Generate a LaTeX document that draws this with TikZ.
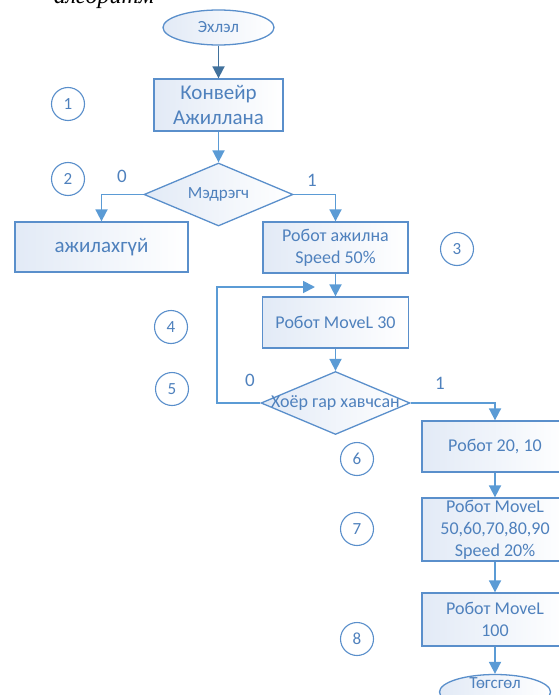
\documentclass[tikz,border=0pt]{standalone}
\usepackage{fontspec}
\setmainfont{Carlito}
\newfontfamily\titleserif{Liberation Serif}
\usetikzlibrary{shapes.geometric,arrows.meta}
\definecolor{flowline}{HTML}{5B9BD5}
\definecolor{flowedge}{HTML}{5A8FCB}
\definecolor{flowtext}{HTML}{4F81BD}
\definecolor{flowdark}{HTML}{41719C}
\definecolor{flowtint}{HTML}{E2EAF6}
\tikzset{
  base/.style={draw=flowedge,line width=1.3pt,text=flowtext,inner sep=0pt,align=center,
               left color=flowtint,right color=white},
  proc/.style={base,rectangle,minimum width=146pt,minimum height=51pt,
               font=\fontsize{18}{22}\selectfont},
  term/.style={base,ellipse,minimum width=111pt,minimum height=35pt,
               font=\fontsize{17}{20}\selectfont},
  dec/.style={base,diamond,minimum width=149pt,minimum height=63pt},
  dectext/.style={text=flowtext,inner sep=0pt,font=\fontsize{18}{22}\selectfont},
  num/.style={circle,draw=flowedge,line width=1.1pt,fill=white,minimum size=33pt,
              inner sep=0pt,text=flowtext,font=\fontsize{17}{20}\selectfont},
  flow/.style={draw=flowline,line width=1.8pt,-{Triangle[length=12pt,width=12pt]}},
  branch/.style={text=flowtext,inner sep=0pt,font=\fontsize{19}{22}\selectfont},
}
\begin{document}
\begin{tikzpicture}[x=1pt,y=-1pt]
\useasboundingbox (0,0) rectangle (558,695);

% heading line, mostly above the page
\node[anchor=base,inner sep=0pt,text=black,font=\titleserif\itshape\fontsize{24}{28}\selectfont]
  (title) at (104,4) {алгоритм};

% main flow
\node[term] (start) at (218.5,27.5) {Эхлэл};
\node[proc,minimum width=129pt,minimum height=52pt,font=\fontsize{21}{25}\selectfont]
  (conv) at (218.5,105) {Конвейр\\Ажиллана};
\node[dec] (sens) at (218.5,194.5) {};
\node[dectext,font=\fontsize{17}{20}\selectfont] (senst) at (sens) {Мэдрэгч};
\node[proc,minimum width=173pt,minimum height=50pt,font=\fontsize{21}{25}\selectfont]
  (idle) at (101.5,247) {ажилахгүй};
\node[proc,minimum width=145pt] (run) at (335.5,247.5) {Робот ажилна\\Speed 50\%};
\node[proc] (mv30) at (335.5,322.5) {Робот MoveL 30};
\node[dec] (grip) at (335.5,403) {};
\node[dectext] (gript) at (grip) {Хоёр гар хавчсан};
\node[proc] (p2010) at (495,446.5) {Робот 20, 10};
\node[proc,minimum height=63pt] (mvseq) at (495,529.5) {Робот MoveL\\50,60,70,80,90\\Speed 20\%};
\node[proc,minimum height=53pt] (mv100) at (495,619.5) {Робот MoveL\\100};
\node[term] (stop) at (495,692) {};
\node[text=flowtext,inner sep=0pt,font=\fontsize{17}{20}\selectfont] (stopt) at (495,683) {Төгсгөл};

% step numbers
\node[num] (n1) at (68,104) {1};
\node[num] (n2) at (68,179) {2};
\node[num] (n3) at (457,249) {3};
\node[num] (n4) at (171,327) {4};
\node[num] (n5) at (172,389) {5};
\node[num] (n6) at (357,459) {6};
\node[num] (n7) at (357,529) {7};
\node[num] (n8) at (357,639) {8};

% branch values
\node[branch] (s0) at (122,176) {0};
\node[branch] (s1) at (312,180) {1};
\node[branch] (g0) at (250,380) {0};
\node[branch] (g1) at (440,383) {1};

% connectors
\coordinate (loopc) at (217,287);
\coordinate (loopend) at (315,287);
\draw[flow,draw=flowdark,color=flowdark] (start) -- (conv);
\draw[flow] (conv) -- (sens);
\draw[flow] (sens.west) -| (idle.north);
\draw[flow] (sens.east) -| (run.north);
\draw[flow] (run) -- (mv30);
\draw[flow] (mv30) -- (grip);
\draw[flow] (grip.west) -| (loopc) -- (loopend);
\draw[flow] (grip.east) -| (p2010.north);
\draw[flow] (p2010) -- (mvseq);
\draw[flow] (mvseq) -- (mv100);
\draw[flow] (mv100) -- (stop);
\end{tikzpicture}
\end{document}
